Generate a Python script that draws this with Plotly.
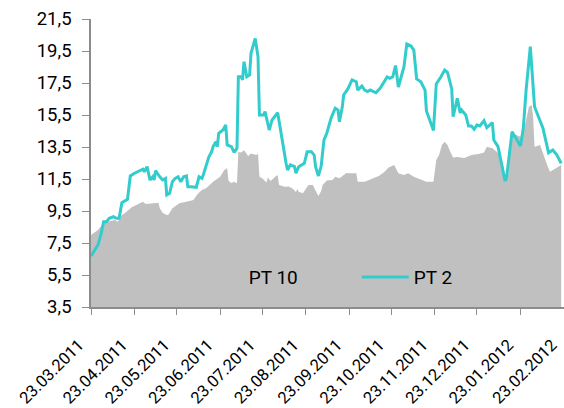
import pandas as pd
import plotly.graph_objects as go

START = "2011-03-23"

# PT 2 (teal line): day offsets since 23.03.2011 and values
pt2_days = [0, 5, 7, 9, 11, 13, 16, 18, 20, 21, 22, 26, 27, 28, 31, 35, 37, 38, 40, 42,
            44, 45, 46, 49, 51, 53, 54, 56, 58, 60, 62, 64, 66, 68, 69, 71, 75, 77, 79, 80,
            82, 84, 86, 87, 89, 90, 91, 94, 96, 97, 100, 102, 104, 105, 107, 108, 109, 111, 113, 114,
            117, 119, 120, 123, 124, 127, 129, 133, 139, 140, 142, 145, 146, 148, 152, 154, 157, 159, 160, 162,
            164, 166, 168, 171, 174, 176, 177, 179, 180, 183, 186, 189, 190, 193, 195, 197, 199, 203, 206, 209,
            211, 213, 215, 217, 219, 223, 225, 228, 230, 232, 235, 238, 239, 244, 246, 249, 251, 252, 254, 257,
            258, 261, 263, 264, 267, 269, 271, 273, 275, 277, 280, 282, 286, 287, 290, 295, 296, 300, 306, 308,
            310, 313, 316, 319, 322, 326, 329, 332, 335]
pt2_vals = [6.69, 7.38, 8.00, 8.83, 8.83, 9.04, 9.14, 9.04, 9.04, 9.56, 10.02, 10.23, 10.81, 11.69, 11.86, 12.02, 12.11, 11.96, 12.27, 11.44,
            11.64, 11.44, 12.02, 11.64, 11.44, 11.54, 10.50, 10.61, 11.33, 11.54, 11.64, 11.33, 11.64, 11.69, 11.02, 11.02, 10.98, 11.64, 11.54, 11.75,
            12.38, 12.89, 13.21, 13.52, 13.83, 13.52, 14.36, 14.56, 14.88, 13.63, 13.52, 13.16, 13.42, 17.89, 17.89, 17.69, 18.83, 17.89, 18.00, 19.36,
            20.29, 19.14, 15.50, 15.50, 15.71, 14.56, 15.19, 15.64, 12.48, 12.06, 12.38, 12.27, 11.86, 12.27, 12.48, 13.21, 13.21, 13.00, 12.27, 11.69,
            12.31, 13.94, 14.36, 15.29, 15.92, 15.81, 15.08, 15.98, 16.75, 17.13, 17.69, 17.58, 17.06, 17.31, 17.06, 16.96, 17.06, 16.89, 17.17, 17.63,
            17.88, 17.79, 17.89, 18.59, 17.25, 18.52, 19.94, 19.81, 19.56, 17.75, 17.58, 17.06, 15.75, 14.53, 17.44, 17.84, 18.19, 18.31, 18.16, 17.13,
            15.39, 16.54, 15.63, 15.81, 15.50, 14.81, 14.81, 14.61, 14.88, 14.81, 15.14, 14.71, 15.02, 13.94, 13.52, 11.38, 11.54, 14.46, 13.56, 14.67,
            17.06, 19.77, 16.02, 15.29, 14.67, 13.14, 13.31, 13.00, 12.48]

# PT 10 (grey area): day offsets since 23.03.2011 and values
pt10_days = [0, 5, 9, 12, 17, 19, 22, 24, 29, 33, 36, 37, 39, 42, 45, 48, 49, 51, 54, 55,
             58, 63, 68, 73, 76, 79, 82, 87, 92, 95, 97, 98, 100, 102, 104, 105, 107, 109, 112, 114,
             115, 118, 119, 120, 122, 125, 126, 128, 131, 133, 134, 138, 141, 144, 146, 147, 148, 151, 153, 155,
             158, 160, 162, 164, 165, 168, 172, 174, 177, 182, 184, 189, 190, 195, 198, 202, 205, 209, 212, 216,
             219, 223, 226, 230, 235, 239, 244, 246, 248, 250, 252, 254, 256, 258, 261, 266, 271, 276, 280, 282,
             286, 289, 292, 294, 295, 297, 300, 303, 306, 308, 312, 314, 315, 316, 320, 322, 325, 327, 331, 335]
pt10_vals = [8.00, 8.31, 8.73, 8.83, 8.94, 8.83, 9.25, 9.36, 9.73, 9.88, 10.02, 10.08, 9.94, 9.98, 9.98, 10.02, 9.67, 9.39, 9.25, 9.25,
             9.67, 9.98, 10.08, 10.19, 10.56, 10.81, 10.92, 11.33, 11.64, 12.06, 12.17, 11.38, 11.25, 11.33, 11.23, 13.19, 13.16, 13.29, 12.94, 13.09,
             13.06, 13.00, 13.09, 11.64, 11.54, 11.28, 11.59, 11.38, 11.63, 11.75, 11.13, 11.02, 11.03, 10.88, 10.69, 10.88, 10.71, 10.61, 10.88, 11.13,
             11.13, 10.81, 10.44, 10.75, 11.13, 11.41, 11.44, 11.64, 11.54, 11.88, 11.86, 11.86, 11.33, 11.33, 11.44, 11.54, 11.69, 11.94, 12.22, 12.38,
             11.86, 11.75, 11.86, 11.64, 11.44, 11.33, 11.33, 12.69, 13.00, 13.63, 13.83, 13.63, 13.21, 12.84, 12.88, 12.81, 13.00, 13.06, 13.16, 13.52,
             13.42, 13.21, 12.94, 12.25, 11.33, 11.63, 14.31, 14.25, 14.14, 14.36, 16.02, 16.13, 15.38, 13.52, 13.63, 13.11, 12.38, 11.96, 12.17, 12.38]

y_ticks = [3.5, 5.5, 7.5, 9.5, 11.5, 13.5, 15.5, 17.5, 19.5, 21.5]

start = pd.Timestamp(START)
pt2_dates = start + pd.to_timedelta(pt2_days, unit="D")
pt10_dates = start + pd.to_timedelta(pt10_days, unit="D")

fig = go.Figure()
fig.add_trace(go.Scatter(
    x=pt10_dates, y=pt10_vals, name="PT 10", mode="lines",
    line=dict(color="#C0C0C0", width=0), fill="tozeroy", fillcolor="#C0C0C0",
))
fig.add_trace(go.Scatter(
    x=pt2_dates, y=pt2_vals, name="PT 2", mode="lines",
    line=dict(color="#33CCCC", width=3),
))

fig.update_layout(
    width=564, height=408,
    margin=dict(l=91, r=0, t=19, b=101, autoexpand=False),
    paper_bgcolor="white", plot_bgcolor="white",
    separators=", ",
    font=dict(family="Roboto", size=17, color="#000000"),
    showlegend=True,
    legend=dict(
        orientation="h", x=0.213, y=0.104, xanchor="left", yanchor="middle",
        bgcolor="rgba(0,0,0,0)", font=dict(size=19), itemwidth=47,
        entrywidth=103,
    ),
)
fig.update_xaxes(
    type="date", automargin=False,
    range=["2011-03-23", "2012-02-23"],
    tick0="2011-03-23", dtick="M1", tickformat="%d.%m.%Y",
    tickangle=-45, tickfont=dict(size=16.5),
    ticklabelstandoff=14, ticklabelshift=-12,
    showgrid=False, zeroline=False,
    showline=True, linecolor="#8c8c8c", linewidth=1.5,
    ticks="outside", ticklen=6, tickcolor="#8c8c8c",
)
fig.update_yaxes(
    automargin=False,
    range=[3.5, 21.5], tickvals=y_ticks, tickformat=".1f",
    showgrid=False, zeroline=False,
    showline=True, linecolor="#8c8c8c", linewidth=1.5,
    ticks="outside", ticklen=7, tickcolor="#8c8c8c",
    tickfont=dict(size=18.5), ticklabelstandoff=7,
)

fig.write_html("out.html", config={"displayModeBar": False},
               post_script="document.body.style.margin='0';")
